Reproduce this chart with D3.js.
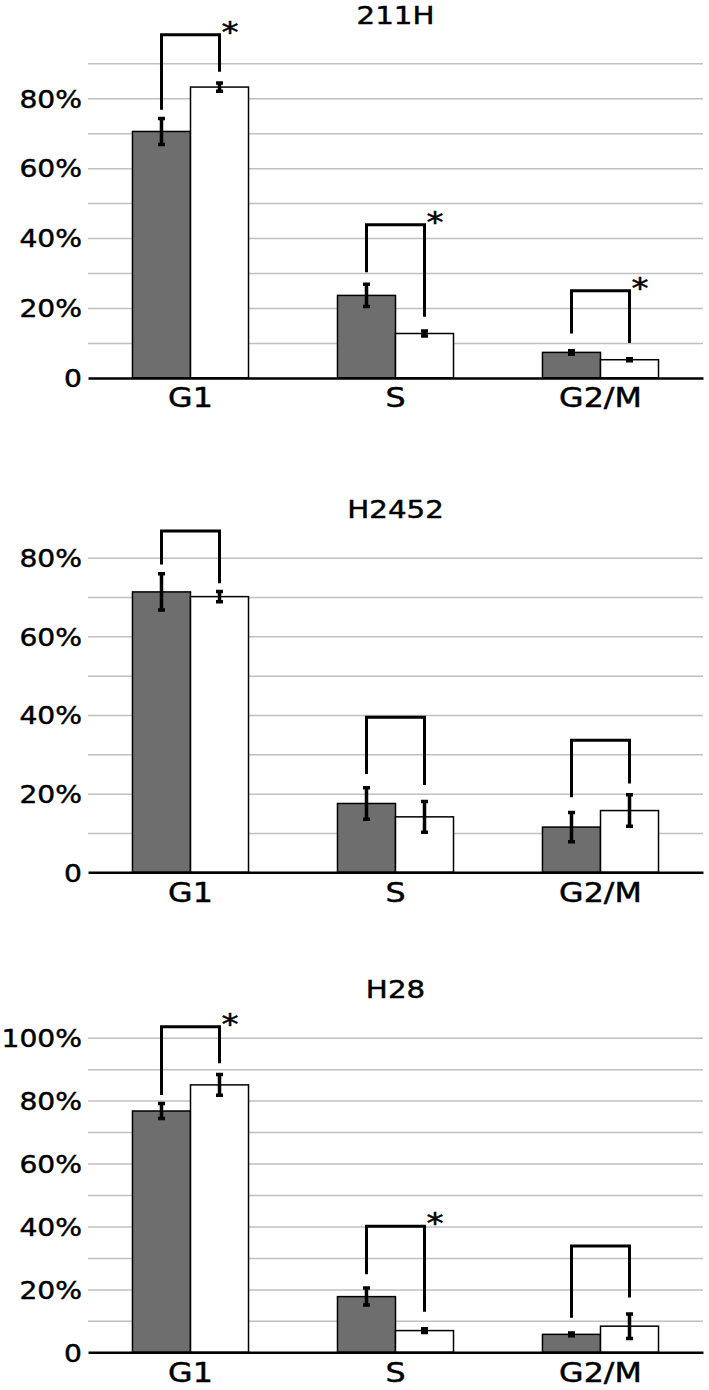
<!DOCTYPE html>
<html lang='en'>
<head>
	<meta charset='UTF-8'/>
	<title>Cell cycle distribution</title>
	<script src='https://cdnjs.cloudflare.com/ajax/libs/d3/7.8.5/d3.min.js'></script>
	<style>
		body {margin: 0; background: #fff;}
		svg text {font-family: 'DejaVu Sans', Verdana, sans-serif; fill: #000; stroke: #000; stroke-width: 0.45px;}
	</style>
</head>
<body>
	<div class='graph'></div>
	<script>
		// data (percent of cells)
		const cellLines = ['211H', 'H2452', 'H28'];
		const phases = ['G1', 'S', 'G2/M'];
		const yMax = [90, 80, 100];
		const yLabelTicks = [[0, 20, 40, 60, 80], [0, 20, 40, 60, 80], [0, 20, 40, 60, 80, 100]];

		const controlMean = [[70.5, 23.6, 7.3], [71.3, 17.5, 11.5], [76.7, 17.7, 5.7]];
		const controlErr = [[3.7, 3.2, 0.5], [4.6, 4.0, 3.7], [2.4, 2.7, 0.4]];
		const treatedMean = [[83.2, 12.7, 5.2], [70.1, 14.1, 15.7], [85.0, 6.9, 8.3]];
		const treatedErr = [[1.2, 0.7, 0.3], [1.3, 3.9, 4.0], [3.3, 0.6, 3.9]];

		// comparison brackets: top, left leg end, right leg end (in %)
		const bracketTop = [[98.2, 43.8, 24.9], [86.8, 39.4, 33.6], [103.5, 40.1, 33.8]];
		const bracketLeft = [[76.7, 30.2, 12.7], [78.3, 25.0, 19.1], [81.8, 24.8, 11.0]];
		const bracketRight = [[87.6, 17.5, 10.0], [73.5, 22.2, 22.6], [91.9, 12.9, 17.4]];
		const significant = [[true, true, true], [false, false, false], [true, true, false]];

		// layout
		const width = 709, height = 1390;
		const left = 88, right = 703;
		const panelTop = [63.3, 557.7, 1037.7];
		const plotH = 314.6;
		const stretch = 1.22; // text in the source is wide
		const yStretch = 1.15;

		const svg = d3.select('.graph').append('svg')
			.attr('width', width)
			.attr('height', height);

		const x = d3.scaleBand()
			.domain(phases)
			.range([left, right])
			.paddingInner(0.434)
			.paddingOuter(0.217);
		const sub = d3.scaleBand()
			.domain(['control', 'treated'])
			.range([0, x.bandwidth()]);

		cellLines.forEach((name, p) => {
			const top = panelTop[p], base = top + plotH;
			const y = d3.scaleLinear().domain([0, yMax[p]]).range([base, top]);
			const g = svg.append('g');

			// grid lines every 10%
			g.append('g')
				.attr('transform', 'translate(' + left + ',0)')
				.call(d3.axisLeft(y)
					.tickValues(d3.range(10, yMax[p] + 1, 10))
					.tickSize(-(right - left))
					.tickFormat(''))
				.call(a => a.select('.domain').remove())
				.selectAll('line')
				.attr('stroke', '#c0c0c0')
				.attr('stroke-width', 1.5);

			// y labels
			g.append('g')
				.attr('transform', 'translate(' + left + ',0)')
				.call(d3.axisLeft(y)
					.tickValues(yLabelTicks[p])
					.tickSize(0)
					.tickFormat(d => d === 0 ? '0' : d + '%'))
				.call(a => a.select('.domain').remove())
				.selectAll('text')
				.attr('x', -6 / yStretch)
				.attr('dy', '0.36em')
				.attr('transform', 'scale(' + yStretch + ',1)')
				.style('font-size', '24.5px');

			// title
			g.append('text')
				.text(name)
				.attr('text-anchor', 'middle')
				.attr('transform', 'translate(' + (left + right) / 2 + ',' + (top - 39.4) + ') scale(' + stretch + ',1)')
				.style('font-size', '24px');

			const rows = phases.map((ph, i) => ({
				phase: ph,
				c: controlMean[p][i], ce: controlErr[p][i],
				t: treatedMean[p][i], te: treatedErr[p][i],
				bt: bracketTop[p][i], bl: bracketLeft[p][i], br: bracketRight[p][i],
				sig: significant[p][i]
			}));

			const grp = g.selectAll('.grp')
				.data(rows)
				.enter()
				.append('g')
				.attr('transform', d => 'translate(' + x(d.phase) + ',0)');

			// bars
			grp.append('rect')
				.attr('x', sub('control'))
				.attr('y', d => y(d.c))
				.attr('width', sub.bandwidth())
				.attr('height', d => base - y(d.c))
				.style('fill', '#6e6e6e')
				.style('stroke', '#000')
				.style('stroke-width', 1.5);
			grp.append('rect')
				.attr('x', sub('treated'))
				.attr('y', d => y(d.t))
				.attr('width', sub.bandwidth())
				.attr('height', d => base - y(d.t))
				.style('fill', '#fff')
				.style('stroke', '#000')
				.style('stroke-width', 1.5);

			// error bars
			const cx = sub('control') + sub.bandwidth() / 2;
			const tx = sub('treated') + sub.bandwidth() / 2;
			const errPath = (xc, m, e) => {
				const y1 = y(m + e), y2 = y(m - e);
				return 'M' + xc + ',' + y1 + 'V' + y2
					+ 'M' + (xc - 3.5) + ',' + y1 + 'H' + (xc + 3.5)
					+ 'M' + (xc - 3.5) + ',' + y2 + 'H' + (xc + 3.5);
			};
			grp.append('path')
				.attr('d', d => errPath(cx, d.c, d.ce) + errPath(tx, d.t, d.te))
				.style('fill', 'none')
				.style('stroke', '#000')
				.style('stroke-width', 3.5);

			// brackets
			grp.append('path')
				.attr('d', d => 'M' + cx + ',' + y(d.bl) + 'V' + y(d.bt) + 'H' + tx + 'V' + y(d.br))
				.style('fill', 'none')
				.style('stroke', '#000')
				.style('stroke-width', 3);

			grp.filter(d => d.sig)
				.append('text')
				.text('*')
				.attr('transform', d => 'translate(' + (tx + 2) + ',' + (y(d.bt) + 7) + ') scale(' + stretch + ',1)')
				.style('font-size', '28px');

			// x axis
			g.append('g')
				.attr('transform', 'translate(0,' + base + ')')
				.call(d3.axisBottom(x).tickSize(0).tickSizeOuter(0).tickPadding(11))
				.call(a => a.select('.domain').attr('stroke', '#000').attr('stroke-width', 2.5))
				.selectAll('text')
				.attr('transform', 'scale(' + stretch + ',1)')
				.style('font-size', '26px');
		});
	</script>
</body>
</html>
